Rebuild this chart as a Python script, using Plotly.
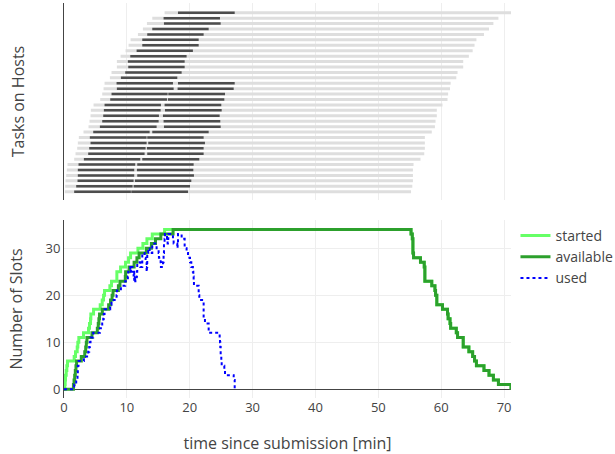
import plotly.graph_objects as go

# ---------------- data ----------------
# host lifetimes (minutes since submission), hosts ordered bottom -> top
host_start = [0.13, 0.19, 0.24, 0.35, 0.45, 0.56, 1.62, 1.83, 2.10, 2.20, 2.36, 3.10,
              3.90, 4.06, 4.22, 4.27, 4.70, 5.76, 6.08, 6.29, 6.45, 7.30, 7.56, 8.41,
              8.41, 9.00, 9.79, 10.27, 10.59, 11.76, 12.55, 13.19, 14.04, 16.00]
host_avail = [1.50, 1.60, 1.70, 1.80, 1.90, 2.00, 2.75, 3.30, 3.45, 3.55, 3.65, 4.45,
              5.30, 5.45, 5.55, 5.65, 6.10, 7.10, 7.40, 7.65, 7.80, 8.65, 8.90, 9.75,
              9.80, 10.35, 11.15, 11.60, 11.95, 13.10, 13.90, 14.55, 15.40, 17.35]
host_end = [55.2, 55.4, 55.5, 55.5, 55.5, 55.6, 56.7, 57.3, 57.4, 57.4, 57.4, 58.5,
            59.0, 59.1, 59.3, 59.3, 60.2, 61.0, 61.1, 61.4, 61.5, 62.4, 62.6, 63.5,
            63.5, 64.4, 65.0, 65.3, 65.6, 66.8, 67.6, 68.3, 69.1, 71.1]

# tasks: host index, start, end
task_host = [0, 0, 1, 1, 2, 2, 3, 3, 4, 4, 5, 5, 6, 6, 7, 7, 8, 8, 9, 9, 10, 10,
             11, 11, 12, 12, 13, 13, 14, 14, 15, 15, 16, 16, 17, 17, 18, 18, 19, 19,
             20, 20, 21, 22, 23, 24, 25, 26, 27, 28, 29, 30, 31, 32, 33]
task_start = [1.62, 10.70, 1.94, 11.07, 2.15, 11.28, 2.20, 11.65, 2.20, 11.60,
              2.31, 11.65, 3.16, 12.45, 3.85, 13.24, 4.01, 13.19, 4.22, 13.40,
              4.11, 13.24, 4.65, 14.04, 5.71, 15.90, 6.08, 15.84, 6.24, 15.74,
              6.34, 16.06, 6.45, 16.00, 7.35, 16.53, 7.56, 16.59, 8.41, 18.07,
              8.36, 18.13, 9.05, 9.74, 10.22, 10.16, 10.54, 11.55, 12.45, 12.45,
              13.24, 14.04, 15.90, 15.84, 18.13]
task_end = [10.64, 19.72, 10.91, 20.04, 11.07, 20.25, 11.17, 20.67, 11.17, 20.57,
            11.33, 20.62, 12.13, 21.52, 12.82, 22.21, 12.98, 22.21, 13.14, 22.42,
            13.14, 22.21, 13.62, 23.01, 14.73, 24.92, 15.05, 24.86, 15.10, 24.76,
            15.37, 25.08, 15.42, 25.02, 16.38, 25.50, 16.48, 25.61, 17.44, 26.99,
            17.33, 27.15, 18.02, 18.71, 19.19, 19.19, 19.50, 20.50, 21.42, 21.42,
            22.21, 23.01, 24.92, 24.81, 27.15]

series_names = ["started", "available", "used"]
x_tickvals = [0, 10, 20, 30, 40, 50, 60, 70]
y_tickvals = [0, 10, 20, 30]


# ---------------- helpers ----------------
def segments(rows, starts, ends):
    xs, ys = [], []
    for r, s, e in zip(rows, starts, ends):
        xs += [s, e, None]
        ys += [r, r, None]
    return xs, ys


def step_counts(ups, downs):
    events = sorted([(t, 1) for t in ups] + [(t, -1) for t in downs])
    xs, ys, c = [0], [0], 0
    for t, d in events:
        c += d
        xs.append(t)
        ys.append(c)
    return xs, ys


hosts = list(range(len(host_start)))
gx, gy = segments(hosts, host_start, host_end)
tx, ty = segments(task_host, task_start, task_end)

sx, sy = step_counts(host_start, host_end)
ax, ay = step_counts(host_avail, host_end)
ux, uy = step_counts(task_start, task_end)

fig = go.Figure()
fig.add_trace(go.Scatter(x=gx, y=gy, mode="lines", line=dict(color="#dedede", width=3),
                         showlegend=False, hoverinfo="skip", xaxis="x", yaxis="y"))
fig.add_trace(go.Scatter(x=tx, y=ty, mode="lines", line=dict(color="#4d4d4d", width=2.5),
                         showlegend=False, hoverinfo="skip", xaxis="x", yaxis="y"))

fig.add_trace(go.Scatter(x=sx, y=sy, mode="lines", name=series_names[0], line_shape="hv",
                         line=dict(color="#66ff66", width=3), xaxis="x2", yaxis="y2"))
fig.add_trace(go.Scatter(x=ax, y=ay, mode="lines", name=series_names[1], line_shape="hv",
                         line=dict(color="#2ca02c", width=3), xaxis="x2", yaxis="y2"))
fig.add_trace(go.Scatter(x=ux, y=uy, mode="lines", name=series_names[2], line_shape="hv",
                         line=dict(color="#0000ff", width=2, dash="dot"), xaxis="x2", yaxis="y2"))

xr = [0, 71.1]
fig.update_layout(
    template="none",
    width=615, height=454,
    margin=dict(l=64, r=104, t=3, b=56, autoexpand=False),
    font=dict(family="Open Sans", color="#444", size=13),
    paper_bgcolor="white", plot_bgcolor="white",
    xaxis=dict(domain=[0, 1], anchor="y", range=xr, showticklabels=False,
               tickvals=x_tickvals, showgrid=True, gridcolor="#eee", zeroline=False),
    yaxis=dict(domain=[0.501, 1], anchor="x", range=[-1.55, 34.8], showgrid=False,
               zeroline=False, showticklabels=False, showline=True, linecolor="#444",
               title=dict(text="Tasks on Hosts", font=dict(size=16), standoff=34)),
    xaxis2=dict(domain=[0, 1], anchor="y2", range=xr, tickvals=x_tickvals,
                showgrid=True, gridcolor="#eee", zeroline=False,
                title=dict(text="time since submission [min]", font=dict(size=16))),
    yaxis2=dict(domain=[0, 0.4506], anchor="x2", range=[-1.85, 36], tickvals=y_tickvals,
                showgrid=True, gridcolor="#eee", zeroline=True, zerolinecolor="#444",
                zerolinewidth=1, showline=True, linecolor="#444",
                title=dict(text="Number of Slots", font=dict(size=16))),
    legend=dict(x=1.01, y=0.4506, yanchor="top", font=dict(size=14)),
)

fig.write_html("out.html")
